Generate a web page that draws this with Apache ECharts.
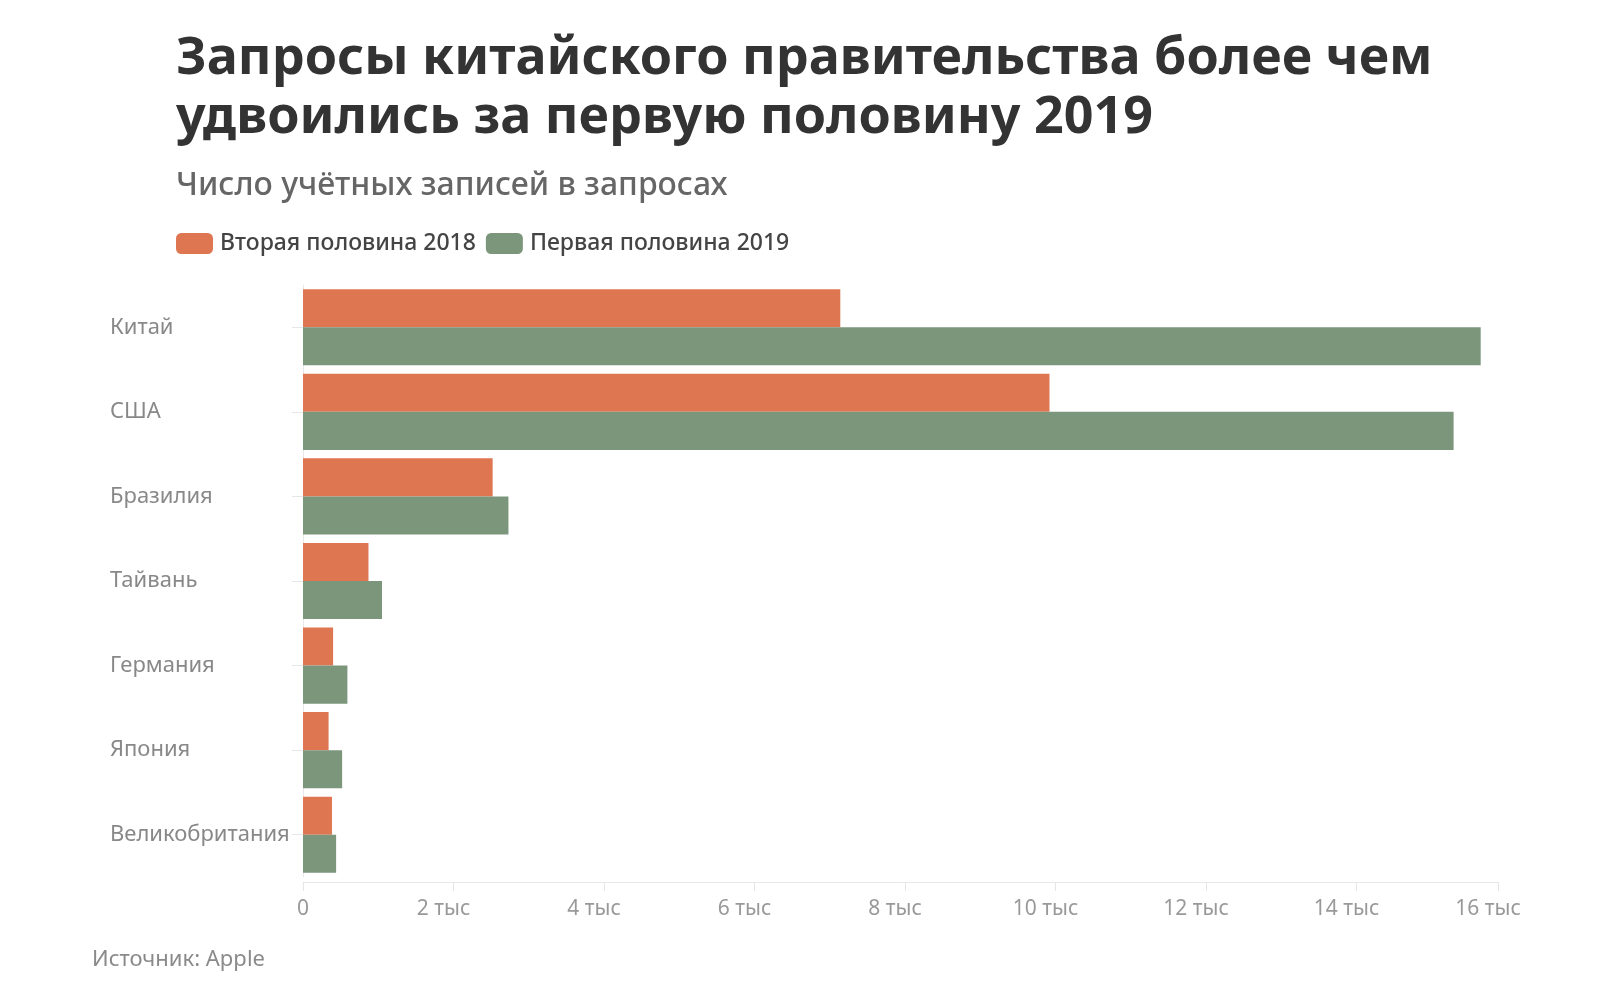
<!DOCTYPE html>
<html>
<head>
<meta charset="utf-8">
<script src="https://cdn.jsdelivr.net/npm/echarts@6/dist/echarts.min.js"></script>
<style>
html,body{margin:0;padding:0;background:#fff;}
#chart{width:1604px;height:1004px;}
</style>
</head>
<body>
<div id="chart"></div>
<script>
const categories = ['Китай', 'США', 'Бразилия', 'Тайвань', 'Германия', 'Япония', 'Великобритания'];
const values2018 = [7140, 9920, 2520, 870, 400, 340, 385];
const values2019 = [15650, 15290, 2730, 1050, 590, 520, 440];
const seriesNames = ['Вторая половина 2018', 'Первая половина 2019'];
const axisMax = 15880;
const tickStep = 2000;

const FONT = 'Noto Sans';
const chart = echarts.init(document.getElementById('chart'), null, {renderer: 'canvas'});
chart.setOption({
  backgroundColor: '#ffffff',
  animation: false,
  title: [
    {
      text: 'Запросы китайского правительства более чем\nудвоились за первую половину 2019',
      left: 171, top: 25,
      textStyle: {fontFamily: FONT, fontSize: 52, fontWeight: 'bold', color: '#333333', lineHeight: 59}
    },
    {
      text: 'Число учётных записей в запросах',
      left: 171, top: 162,
      textStyle: {fontFamily: FONT, fontSize: 32, fontWeight: 500, color: '#666666', lineHeight: 38}
    },
    {
      text: 'Источник: Apple',
      left: 87, top: 941,
      textStyle: {fontFamily: FONT, fontSize: 22, fontWeight: 'normal', color: '#8a8a8a', lineHeight: 28}
    }
  ],
  legend: {
    left: 171, top: 227,
    itemWidth: 37, itemHeight: 21, itemGap: 10,
    icon: 'roundRect',
    textStyle: {fontFamily: FONT, fontSize: 23, fontWeight: 500, color: '#444444', padding: [0, 0, 0, 2]},
    data: seriesNames
  },
  grid: {left: 303, right: 106, top: 285, bottom: 127, containLabel: false, outerBoundsMode: 'none'},
  xAxis: {
    type: 'value', min: 0, max: axisMax, interval: tickStep, offset: 5,
    axisLine: {show: true, lineStyle: {color: '#e8e8e8', width: 1}},
    axisTick: {show: true, length: 9, lineStyle: {color: '#e6e6e6'}},
    splitLine: {show: false},
    axisLabel: {
      fontFamily: FONT, fontSize: 21, color: '#999999', margin: 17,
      formatter: v => v === 0 ? '0' : '{t|' + Math.round(v / 1000) + ' тыс}',
      rich: {t: {fontFamily: FONT, fontSize: 21, color: '#999999', padding: [0, 20, 0, 0]}}
    }
  },
  yAxis: {
    type: 'category', data: categories, inverse: true,
    axisLine: {show: true, lineStyle: {color: '#e8e8e8'}},
    axisTick: {show: true, alignWithLabel: true, length: 11, lineStyle: {color: '#e6e6e6'}},
    axisLabel: {fontFamily: FONT, fontSize: 22, color: '#888888', align: 'left', margin: 193}
  },
  series: [
    {name: seriesNames[0], type: 'bar', data: values2018, barGap: '0%', barCategoryGap: '10%',
     itemStyle: {color: '#df7652'}},
    {name: seriesNames[1], type: 'bar', data: values2019, barGap: '0%', barCategoryGap: '10%',
     itemStyle: {color: '#7c967c'}}
  ]
});
</script>
</body>
</html>
